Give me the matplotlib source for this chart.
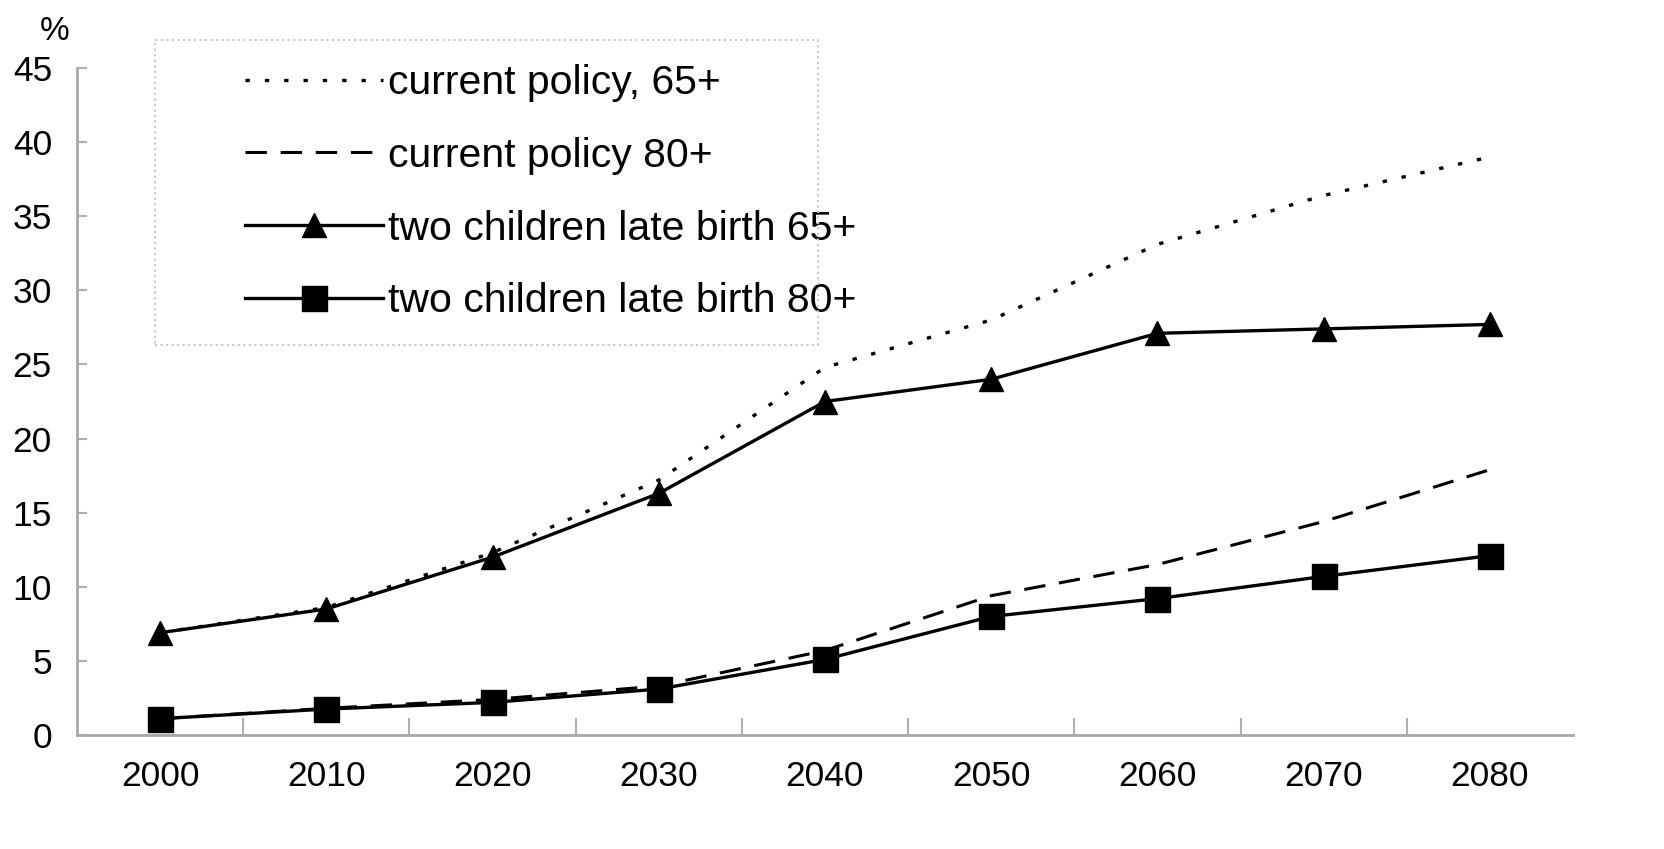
import matplotlib.pyplot as plt
from matplotlib.patches import Rectangle

plt.rcParams['font.family'] = ['Liberation Sans', 'DejaVu Sans']

years = ['2000', '2010', '2020', '2030', '2040', '2050', '2060', '2070', '2080']
cur_65 = [6.9, 8.6, 12.3, 17.2, 24.8, 28.0, 33.1, 36.4, 39.0]
cur_80 = [1.1, 1.8, 2.4, 3.3, 5.7, 9.4, 11.5, 14.4, 17.9]
two_65 = [6.9, 8.5, 12.0, 16.3, 22.5, 24.0, 27.1, 27.4, 27.7]
two_80 = [1.1, 1.75, 2.2, 3.1, 5.1, 8.0, 9.2, 10.7, 12.1]
labels = ['current policy, 65+', 'current policy 80+',
          'two children late birth 65+', 'two children late birth 80+']

W, H = 1664, 849
fig = plt.figure(figsize=(W / 100, H / 100), dpi=100)
ax = fig.add_axes([77 / W, 1 - 735 / H, (1573 - 77) / W, (735 - 68) / H])

x = range(len(years))
ax.plot(x, cur_65, color='black', lw=2.4, linestyle=(0, (1.3, 4.5)), label=labels[0])
ax.plot(x, cur_80, color='black', lw=2.2, linestyle=(0, (7, 4.5)), label=labels[1])
ax.plot(x, two_65, color='black', lw=2.4, marker='^', ms=17, label=labels[2])
ax.plot(x, two_80, color='black', lw=2.4, marker='s', ms=18, label=labels[3])

ax.set_xlim(-0.5, len(years) - 0.5)
ax.set_ylim(0, 45)
ax.set_yticks(range(0, 46, 5))
ax.set_xticks(list(x))
ax.set_xticklabels(years)
ax.tick_params(axis='x', length=0, labelsize=25.5, pad=18)
ax.tick_params(axis='y', direction='in', length=7, width=1.5, color='#b0b0b0',
               labelsize=25.5, pad=18)
ax.set_xticks([i + 0.5 for i in range(len(years) - 1)], minor=True)
ax.tick_params(axis='x', which='minor', direction='in', length=12, width=1.5,
               color='#b0b0b0')
for s in ['top', 'right']:
    ax.spines[s].set_visible(False)
for s in ['left', 'bottom']:
    ax.spines[s].set_color('#a8a8a8')
    ax.spines[s].set_linewidth(2)

fig.text(55 / W, 1 - 32 / H, '%', fontsize=24, ha='center', va='center')

# dotted legend frame, wider on the left than the legend itself
fig.patches.append(Rectangle((155 / W, 1 - 345 / H), (818 - 155) / W, (345 - 40) / H,
                             transform=fig.transFigure, fill=False,
                             edgecolor='#c8c8c8', linestyle=':', lw=1.5))
leg = ax.legend(loc='upper left', bbox_to_anchor=(245 / W, 1 - 64 / H),
                bbox_transform=fig.transFigure, frameon=False, fontsize=29.5,
                handlelength=3.38, handletextpad=0.1, labelspacing=0.85,
                borderpad=0, borderaxespad=0)

fig.savefig('out.png', dpi=100)
